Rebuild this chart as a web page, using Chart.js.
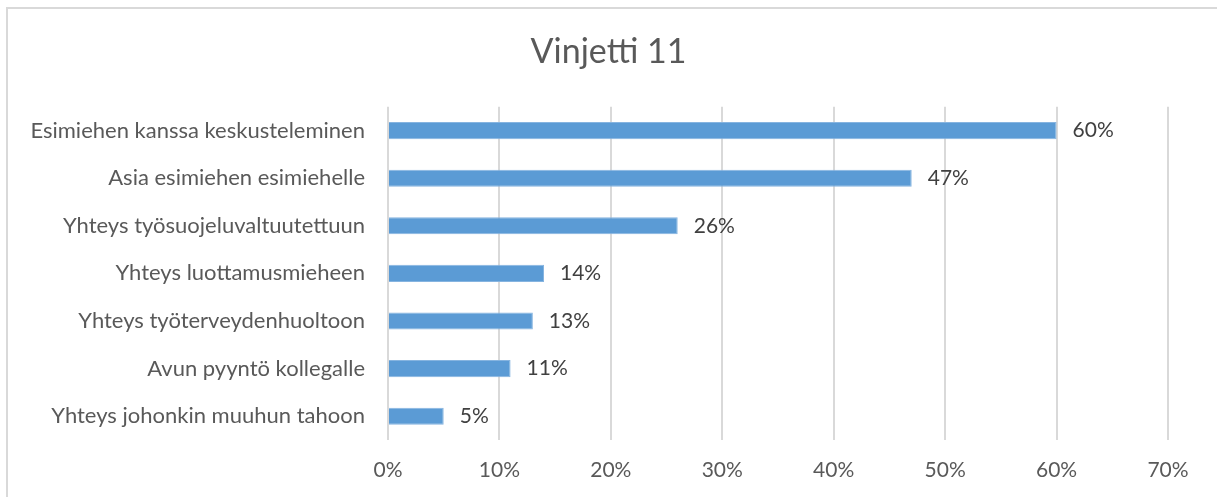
<!DOCTYPE html>
<html lang="fi">
<head>
  <meta charset="UTF-8" />
  <title>Vinjetti 11</title>
  <script src="https://cdn.jsdelivr.net/npm/chart.js"></script>
  <style>
    html, body { margin: 0; padding: 0; background: #fff; overflow: hidden; }
    #frame { position: absolute; left: 6px; top: 7px; width: 1400px; height: 700px; border: 2px solid #d9d9d9; }
    #wrap { position: absolute; left: 0; top: 0; width: 1217px; height: 497px; }
  </style>
</head>
<body>
  <div id="frame"></div>
  <div id="wrap"><canvas id="chart"></canvas></div>

  <script>
    // data
    const categories = [
      'Esimiehen kanssa keskusteleminen',
      'Asia esimiehen esimiehelle',
      'Yhteys työsuojeluvaltuutettuun',
      'Yhteys luottamusmieheen',
      'Yhteys työterveydenhuoltoon',
      'Avun pyyntö kollegalle',
      'Yhteys johonkin muuhun tahoon'
    ];
    const values = [60, 47, 26, 14, 13, 11, 5];
    const xTicks = [0, 10, 20, 30, 40, 50, 60, 70];

    const FONT = 'Lato, "Open Sans", sans-serif';

    // value labels at the end of each bar
    const barLabels = {
      id: 'barLabels',
      afterDatasetsDraw(chart) {
        const ctx = chart.ctx;
        const meta = chart.getDatasetMeta(0);
        ctx.save();
        ctx.font = '21px ' + FONT;
        ctx.fillStyle = '#404040';
        ctx.textAlign = 'left';
        ctx.textBaseline = 'middle';
        meta.data.forEach((bar, i) => {
          ctx.fillText(values[i] + '%', bar.x + 16, bar.y);
        });
        ctx.restore();
      }
    };

    new Chart(document.getElementById('chart'), {
      type: 'bar',
      data: {
        labels: categories,
        datasets: [{
          data: values,
          backgroundColor: '#5b9bd5',
          borderColor: '#86b4e0',
          borderWidth: 1,
          categoryPercentage: 1,
          barPercentage: 0.36
        }]
      },
      options: {
        indexAxis: 'y',
        responsive: true,
        maintainAspectRatio: false,
        animation: false,
        layout: { padding: { top: 20, right: 0, bottom: 0, left: 0 } },
        plugins: {
          legend: { display: false },
          tooltip: { enabled: false },
          title: {
            display: true,
            text: 'Vinjetti 11',
            color: '#595959',
            font: { family: FONT, size: 34, weight: 'normal' },
            padding: { top: 12, bottom: 34 }
          }
        },
        scales: {
          x: {
            min: 0,
            max: 70,
            afterBuildTicks(axis) { axis.ticks = xTicks.map(v => ({ value: v })); },
            afterFit(axis) { axis.height = 57; axis.paddingRight = 49; },
            grid: { color: '#d9d9d9', lineWidth: 2, drawTicks: false },
            border: { display: false },
            ticks: {
              padding: 18,
              color: '#595959',
              font: { family: FONT, size: 21 },
              callback: v => v + '%'
            }
          },
          y: {
            afterFit(axis) { axis.width = 388; },
            grid: { display: false, drawTicks: false },
            border: { display: false },
            ticks: {
              padding: 23,
              color: '#595959',
              font: { family: FONT, size: 22 }
            }
          }
        }
      },
      plugins: [barLabels]
    });
  </script>
</body>
</html>
